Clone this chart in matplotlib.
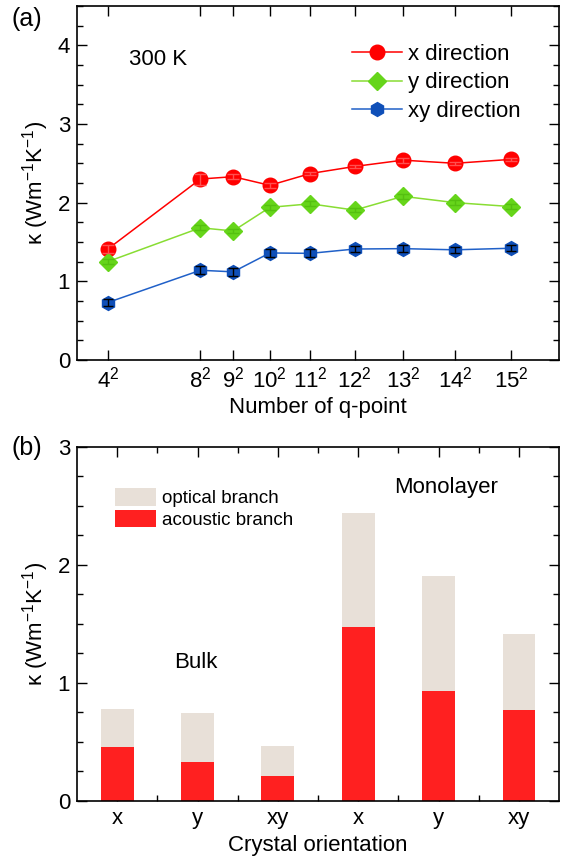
import matplotlib
matplotlib.use("Agg")
import matplotlib.pyplot as plt
import numpy as np
from matplotlib.ticker import MultipleLocator, FixedLocator

plt.rcParams['font.family'] = ['Liberation Sans', 'DejaVu Sans']
plt.rcParams['mathtext.default'] = 'regular'
plt.rcParams['mathtext.fontset'] = 'custom'
plt.rcParams['mathtext.rm'] = 'Liberation Sans'

# ---- data (a) ----
qpoints = [16, 64, 81, 100, 121, 144, 169, 196, 225]
qlabels = [r'$4^2$', r'$8^2$', r'$9^2$', r'$10^2$', r'$11^2$', r'$12^2$', r'$13^2$', r'$14^2$', r'$15^2$']
kx = [1.41, 2.30, 2.33, 2.22, 2.37, 2.46, 2.54, 2.50, 2.55]
ky = [1.25, 1.68, 1.64, 1.94, 1.985, 1.905, 2.08, 2.00, 1.95]
kxy = [0.73, 1.14, 1.12, 1.36, 1.355, 1.41, 1.415, 1.40, 1.42]
ex = [0.05, 0.07, 0.03, 0.03, 0.02, 0.02, 0.03, 0.02, 0.02]
ey = [0.03, 0.03, 0.03, 0.03, 0.03, 0.03, 0.03, 0.03, 0.03]
exy = [0.05, 0.05, 0.05, 0.05, 0.05, 0.04, 0.04, 0.04, 0.04]

# ---- data (b) ----
orient = ['x', 'y', 'xy', 'x', 'y', 'xy']
acoustic = [0.455, 0.33, 0.21, 1.472, 0.932, 0.768]
optical = [0.325, 0.416, 0.251, 0.963, 0.975, 0.644]

fig = plt.figure(figsize=(5.70, 8.59), dpi=100)
ax1 = fig.add_axes([0.135, 0.581, 0.846, 0.412])
ax2 = fig.add_axes([0.135, 0.068, 0.846, 0.412])

FS = 16
red = '#FF0000'
green_m = '#66D51A'
green_l = '#88DD33'
blue_m = '#0F4FB8'
blue_l = '#2060C8'

ax1.plot(qpoints, kx, '-', color=red, lw=1.1, marker='o', ms=10.5, mfc=red, mec=red, label='x direction', zorder=3)
ax1.plot(qpoints, ky, '-', color=green_l, lw=1.1, marker='D', ms=9, mfc=green_m, mec=green_m, label='y direction', zorder=3)
ax1.plot(qpoints, kxy, '-', color=blue_l, lw=1.1, marker='h', ms=10, mfc=blue_m, mec=blue_m, label='xy direction', zorder=3)
ax1.errorbar(qpoints, kx, yerr=ex, fmt='none', ecolor='#FF5050', elinewidth=1, capsize=4, zorder=4)
ax1.errorbar(qpoints, ky, yerr=ey, fmt='none', ecolor='#55C010', elinewidth=1, capsize=4, zorder=4)
ax1.errorbar(qpoints, kxy, yerr=exy, fmt='none', ecolor='black', elinewidth=1, capsize=3.5, zorder=4)

ax1.set_xlim(0, 250)
ax1.set_ylim(0, 4.5)
ax1.xaxis.set_major_locator(FixedLocator(qpoints))
ax1.set_xticklabels(qlabels)
ax1.yaxis.set_major_locator(MultipleLocator(1))
ax1.yaxis.set_minor_locator(MultipleLocator(0.25))
ax1.set_xlabel('Number of q-point', fontsize=FS, labelpad=3)
ax1.set_ylabel(r'κ (Wm$^{-1}$K$^{-1}$)', fontsize=FS, labelpad=5)
ax1.text(27, 3.82, '300 K', fontsize=FS, va='center', ha='left')
ax1.legend(loc='upper left', bbox_to_anchor=(0.57, 0.894), fontsize=FS, frameon=False,
           handlelength=2.25, handletextpad=0.3, labelspacing=0.35, borderaxespad=0.0, borderpad=0.0)

# bars
pos = np.arange(1, len(orient) + 1)
ax2.bar(pos, acoustic, width=0.41, color='#FF2020', label='acoustic branch', zorder=2)
ax2.bar(pos, optical, width=0.41, bottom=acoustic, color='#E8E0D8', label='optical branch', zorder=2)
ax2.set_xlim(0.5, 6.5)
ax2.set_ylim(0, 3)
ax2.set_xticks(pos)
ax2.set_xticklabels(orient)
ax2.xaxis.set_minor_locator(FixedLocator(pos[:-1] + 0.5))
ax2.yaxis.set_major_locator(MultipleLocator(1))
ax2.yaxis.set_minor_locator(MultipleLocator(0.25))
ax2.set_xlabel('Crystal orientation', fontsize=FS, labelpad=5)
ax2.set_ylabel(r'κ (Wm$^{-1}$K$^{-1}$)', fontsize=FS, labelpad=5)
ax2.text(1.71, 1.17, 'Bulk', fontsize=FS, va='center', ha='left')
ax2.text(4.45, 2.65, 'Monolayer', fontsize=FS, va='center', ha='left')
h, l = ax2.get_legend_handles_labels()
ax2.legend(h[::-1], l[::-1], loc='upper left', bbox_to_anchor=(0.079, 0.883), fontsize=13.5, frameon=False,
           handlelength=2.2, handleheight=1.07, handletextpad=0.3, labelspacing=0.12,
           borderaxespad=0.0, borderpad=0.0)

for ax in (ax1, ax2):
    ax.tick_params(which='both', direction='in', top=True, right=True, labelsize=FS, width=1)
    ax.tick_params(which='major', length=7, pad=5)
    ax.tick_params(which='minor', length=4)
    for s in ax.spines.values():
        s.set_linewidth(1.2)

fig.text(0.02, 0.992, '(a)', fontsize=18, va='top', ha='left')
fig.text(0.02, 0.492, '(b)', fontsize=18, va='top', ha='left')

fig.savefig('out.png', dpi=100)
